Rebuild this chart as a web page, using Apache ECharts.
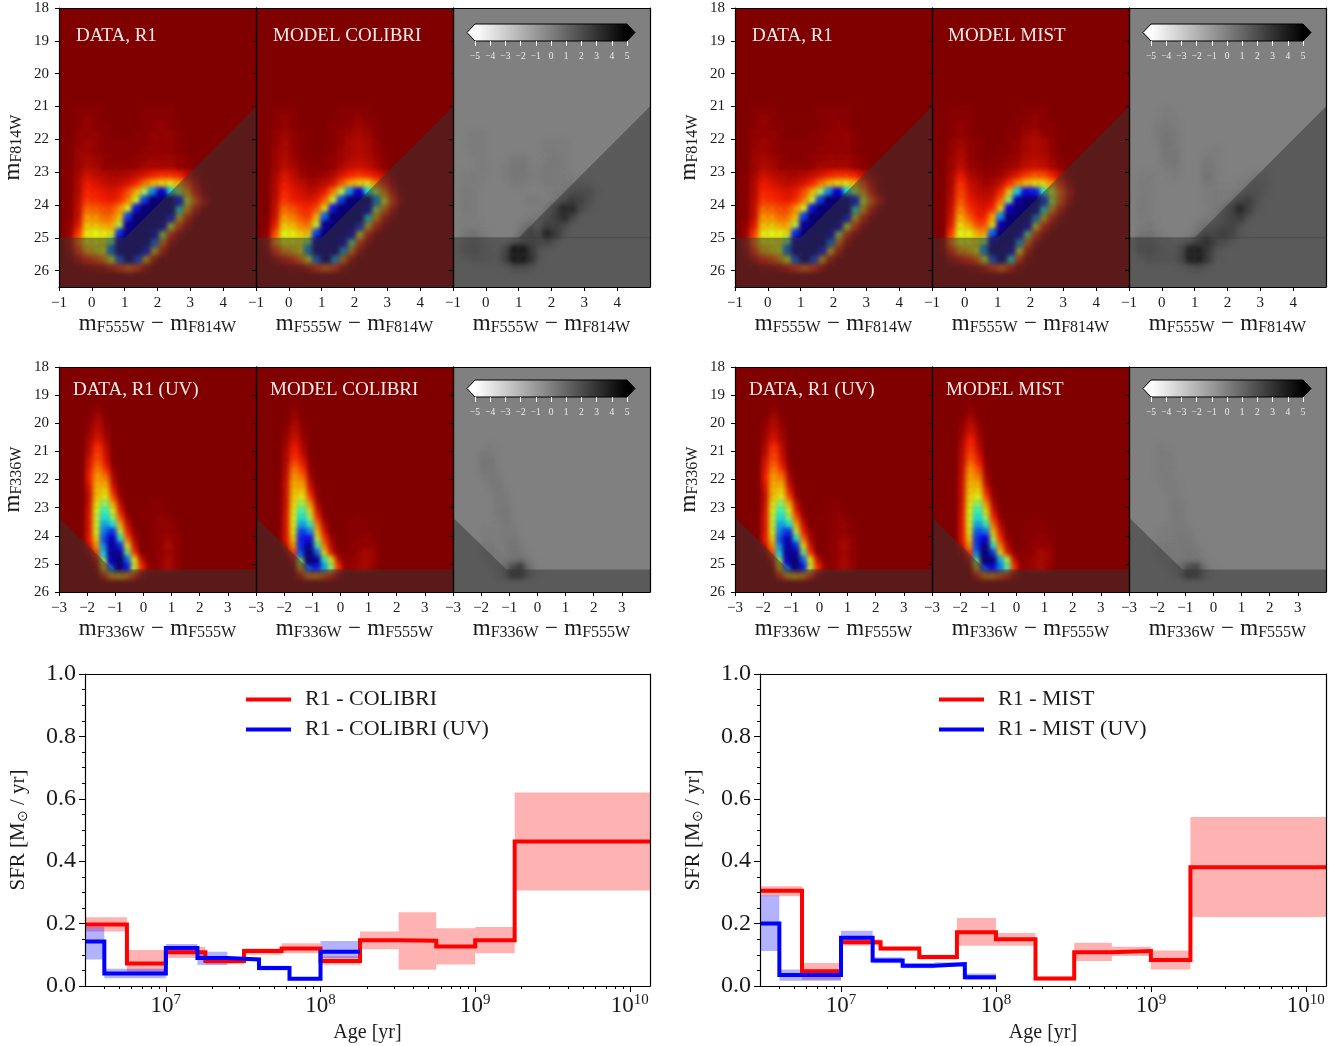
<!DOCTYPE html>
<html><head><meta charset="utf-8"><style>html,body{margin:0;padding:0;background:#fff}#c{width:1342px;height:1046px}</style>
<script src="https://cdn.jsdelivr.net/npm/echarts@6/dist/echarts.min.js"></script></head><body><div id="c"></div>
<script>
// ---- Hess diagram values, 0-100 on the reversed jet scale. Rows are magnitudes, columns colours.
const optColorStart=-0.875, optMagStart=21.125, cellStep=0.25;
const optData=[
[0,0,1,1,1,0,0,0,0,0,1,1,1,1],
[0,0,1,2,1,0,0,0,0,0,1,1,1,1],
[0,0,1,2,1,1,0,0,0,0,1,1,2,1],
[0,0,2,2,2,1,0,0,0,1,1,2,2,2,1],
[0,0,2,3,2,1,1,1,1,1,1,2,2,2,1],
[0,0,3,3,2,1,1,1,1,1,2,2,2,2,1],
[0,0,3,4,3,2,1,1,1,2,2,3,3,3,2,1],
[0,0,3,5,4,2,2,2,2,2,4,4,4,4,2,1],
[0,1,4,8,6,5,4,4,5,7,9,12,14,14,12,7,3],
[0,1,5,11,9,7,6,7,9,13,21,28,33,34,28,16,6,1],
[0,1,5,13,12,10,9,11,17,28,44,72,90,64,45,25,10,2],
[0,1,6,15,14,12,11,14,22,40,80,100,100,100,85,40,18,6],
[0,1,7,20,19,17,17,24,38,85,100,100,100,100,60,25,8,1],
[0,1,7,25,24,20,21,30,80,100,100,100,100,85,30,10,2],
[0,2,10,30,30,26,27,42,95,100,100,100,92,40,14,3],
[0,3,15,36,38,36,34,82,100,100,100,92,45,12,3],
[0,4,20,36,38,36,50,95,100,100,100,75,20,4],
[0,3,14,28,32,38,75,100,100,100,85,30,8],
[0,1,6,12,16,22,38,78,100,80,28,6],
[0,0,0,2,3,4,8,14,20,14,4]];
const optColibri=[
[0,0,1,1,1,0,0,0,0,0,1,1,1,1],
[0,0,1,2,1,0,0,0,0,0,1,1,2,1,1],
[0,0,1,2,1,0,0,0,0,1,1,2,3,2,1],
[0,0,2,3,2,1,0,0,0,1,2,3,4,3,1],
[0,0,2,4,2,1,0,0,0,1,2,4,5,4,2],
[0,0,3,4,2,1,0,0,0,1,3,4,5,4,2,1],
[0,0,3,5,3,1,1,0,1,2,3,5,6,5,3,1],
[0,0,3,6,4,2,1,1,1,2,5,7,8,7,4,1],
[0,0,4,9,6,3,2,2,3,5,9,13,15,13,10,6,2],
[0,0,5,11,8,6,4,4,6,9,18,27,32,34,22,12,4],
[0,0,5,13,10,8,6,7,11,22,42,72,90,62,42,22,8,1],
[0,0,6,15,12,10,9,11,19,40,80,100,100,100,72,36,14,3],
[0,0,7,20,17,14,13,17,34,85,100,100,100,92,44,20,6],
[0,0,8,25,22,17,15,28,76,100,100,100,100,62,24,8,2],
[0,1,11,31,28,22,21,40,95,100,100,100,82,30,10,2],
[0,2,17,38,36,30,30,80,100,100,100,90,38,10,2],
[0,3,23,38,38,36,48,95,100,100,92,52,14,3],
[0,2,13,24,28,36,72,100,100,100,70,22,5],
[0,0,4,8,12,20,36,76,100,70,22,5],
[0,0,0,1,2,3,6,14,20,14,4]];
const optMist=[
[0,0,1,1,1,0,0,0,0,0,0,1,1,1],
[0,0,1,1,1,0,0,0,0,0,1,1,2,1],
[0,0,1,2,1,0,0,0,0,0,1,2,2,1,1],
[0,0,1,2,1,0,0,0,0,1,1,3,4,2,1],
[0,0,2,3,2,1,0,0,0,1,2,4,5,4,2],
[0,0,2,4,2,1,0,0,1,1,2,4,5,4,2],
[0,0,3,5,2,1,0,1,1,2,3,5,6,5,3,1],
[0,0,3,6,3,2,1,1,2,3,4,7,8,7,4,2],
[0,0,4,10,5,3,2,2,3,6,10,15,18,17,12,6,2],
[0,0,4,14,7,5,3,4,7,14,22,30,34,33,24,13,4],
[0,0,5,16,9,6,5,6,13,30,65,86,84,58,38,20,8,1],
[0,0,6,18,11,8,7,9,20,48,92,100,100,82,44,18,5],
[0,0,7,22,14,10,9,13,32,88,100,100,96,60,24,8,1],
[0,0,8,27,18,12,12,26,72,100,100,100,72,30,10,2],
[0,0,10,33,25,17,17,34,92,100,100,90,36,12,3],
[0,0,15,38,36,26,26,76,100,100,92,50,14,3],
[0,2,21,38,38,34,46,94,100,100,70,20,4],
[0,2,12,24,28,36,72,100,100,92,36,8],
[0,0,4,8,12,18,36,78,100,60,14,2],
[0,0,0,1,2,3,6,14,20,10,2]];
// residuals, -5..5
const optResColibri=[
[],[],[],
[0,0,.1,.1],
[0,0,.1,.1,0,0,0,0,0,0,0,.1,.1,.1],
[0,0,.1,.1,0,0,0,0,0,0,0,.1,.1,.1],
[0,0,0,.1,0,0,0,.2,.2,0,0,.1,.2,.1],
[0,0,0,.1,0,0,.1,.3,.3,0,.1,.2,.2,.1],
[0,.1,.1,.1,0,0,.1,.3,.3,.1,.1,.2,.2,.1],
[0,.1,.1,0,0,0,0,.1,.1,0,0,.1,.1,.1,.2,.3,.2],
[0,.2,.1,0,0,0,0,0,0,0,0,0,.1,.2,.8,1.2,.9,.2],
[0,.2,.1,0,0,0,0,0,0,.2,.1,0,.2,1,2.2,1.8,.7],
[0,.2,.1,0,0,0,0,0,0,0,0,.3,1.6,4,3.5,1,.2],
[0,.1,.1,0,0,0,0,0,0,.1,.2,.8,2,3.4,1.2],
[0,.1,.1,0,0,0,0,0,.2,.6,.4,1.8,2,1],
[0,.2,.4,.1,0,0,0,0,.6,2,1,4,2.2,.2],
[0,.6,.9,.5,.1,0,0,.4,1.4,1.8,1.4,1.4,.3],
[0,.8,1,.6,.2,.1,1.4,5,5,2.4,.3],
[0,.2,.5,.5,.4,.3,1.8,5,5,2.8,.2],
[0,0,0,0,0,0,.2,.8,1,.4]];
const optResMist=[
[0,0,0,0,.1],
[0,0,0,0,.1,.1],
[0,0,0,.1,.2,.1],
[0,0,0,.1,.4,.2],
[0,0,0,0,.4,.2],
[0,0,0,0,.3,.3,0,0,0,0,.1],
[0,0,0,0,.2,.4,0,0,0,.2,.1],
[0,0,0,0,.1,.2,0,0,0,.3,.1],
[0,.1,.1,0,0,.1,0,0,0,.4,.1,0,0,0,0,.2,.3],
[0,.1,.1,0,0,0,0,0,0,.2,.1,0,0,.1,.3,.6,.4],
[0,.1,.1,0,0,0,0,0,0,.1,.1,.1,.1,.2,.6,.8,.2],
[0,.2,.1,0,0,0,0,0,0,.1,.2,.1,.3,1.3,2,.6],
[0,.2,.1,0,0,0,0,0,0,0,.1,.5,1.6,3.8,1.8,.2],
[0,.1,.1,0,0,0,0,0,0,.1,.3,.9,1.8,2.2,.4],
[0,.1,.2,0,0,0,0,0,.2,.5,.6,1.2,1.7,.4],
[0,.3,.4,.1,0,0,0,0,.5,1.3,1.5,2.2,1.5,.2],
[.1,.9,.9,.4,.2,0,.1,.5,2,3.2,1.5,.7,.2],
[0,1,1.1,.6,.3,.2,1.2,4.2,4.4,2.4,.4],
[0,.2,.6,.6,.5,.4,1.4,4.4,4.6,2.4,.2],
[0,0,0,0,0,0,.2,.6,.8,.3]];
const uvColorStart=-1.875, uvMagStart=19.375;
const uvData=[
[0,1],[0,2],[1,4,1],[2,5,2],[3,7,3],[4,9,4],[5,14,6],[6,16,7],[9,18,9],
[10,22,13,2],[12,26,20,4],[10,28,26,6],[8,30,32,10,1],
[7,30,36,16,2],
[8,35,48,27,6,0,0,0,0,1,1],
[9,38,58,36,10,1,0,0,0,1,1],
[10,40,64,46,18,3,0,0,1,1,2,1],
[10,40,70,62,28,7,0,0,0,1,2,2,1],
[10,38,74,82,42,12,2,0,0,1,2,2,1],
[11,32,78,92,60,20,4,0,0,1,2,3,2],
[6,24,70,96,82,35,8,0,0,1,2,4,2],
[2,14,64,96,95,52,14,1,0,1,2,3,2],
[0,5,42,90,100,76,36,7,1,1,2,4,2],
[0,1,28,74,100,85,42,14,3,1,2,4,2],
[0,0,10,26,30,26,14,3]];
const uvColibri=[
[0,1],[0,2],[0,3],[1,5,1],[2,6,2],[3,8,3],[4,11,4],[5,13,6],[5,16,10,1],
[6,21,14,2],[7,25,19,3],[8,28,25,6],[8,30,30,9,1],[8,32,36,15,2],
[8,34,46,24,4],[9,36,56,33,8],
[10,38,64,44,14,2,0,0,0,0,1],
[10,38,70,58,22,5,0,0,0,1,1,1],
[10,36,80,72,30,9,0,0,0,1,1,1,1],
[10,32,84,86,42,15,3,0,0,1,1,2,1],
[6,24,82,96,56,22,5,0,0,1,2,2,2],
[2,12,76,100,76,34,9,1,1,1,2,4,3],
[0,4,46,100,96,60,34,6,1,2,3,4,3],
[0,1,26,76,84,70,48,14,2,2,3,4,2],
[0,0,8,22,24,18,12,3]];
const uvMist=[
[0,1],[0,2],[1,4,1],[2,6,2],[3,8,3],[4,12,4],[5,14,5],[6,16,8],[6,19,11,1],
[7,24,16,2],[7,27,21,3],[8,29,27,5],[8,31,32,10,1],[8,33,38,16,2],
[8,35,48,25,4],[9,37,58,33,8],
[10,38,64,44,13,2,0,0,0,0,1],
[10,38,70,58,21,5,0,0,0,1,1,1],
[10,36,78,74,30,9,1,0,0,1,1,1,1],
[10,32,82,88,42,14,2,0,0,1,1,2,1],
[6,24,80,98,58,22,5,0,0,1,2,2,2],
[2,12,72,100,80,34,10,1,1,1,2,4,3],
[0,4,48,100,98,68,42,7,1,2,3,4,3],
[0,1,26,78,86,74,54,14,2,2,3,4,2],
[0,0,8,22,24,18,12,3]];
const uvResColibri=[
[],[],[],[],[],[],[0,.1],[.3,.1],[.4,.2],[.3,.2],[.1,.3,.1],[0,.2,.2],[0,.1,.3],
[0,0,.2,.1],[0,0,.2,.1],[0,0,.2,.3],[0,0,.1,.3],[0,0,0,.2,.1],[.1,.1,0,.2,.1],
[.1,.1,0,.1,.3],[.2,.2,0,.1,.4,.1],[.2,.3,.1,.1,.4,.2],[0,.3,.3,.2,.4,.6,.2],
[0,0,.4,.7,1.8,2.6,.8,.1],[0,0,.2,.8,2.8,2.8,1,.2]];
const uvResMist=[
[],[],[],[],[],[],[.1],[.1,.1],[.1,.1],[.1,.1],[.1,.1],[0,.1,.1],[0,.1,.1],
[0,0,.1],[0,0,.2,.1],[0,0,.2,.1],[0,0,.2,.1],[0,0,.1,.2],[.1,.1,.1,.2,.1],
[.1,.1,.1,.3,.2],[.2,.2,.2,.2,.3,.1],[.2,.3,.2,.1,.4,.2],[0,.3,.3,.1,.3,.3,.1],
[0,0,.4,.8,1.8,2.2,.6,.1],[0,0,.2,.8,2.5,2.2,.8,.1]];
// masked regions, [colour, magnitude]
const optMask=[[1,25],[5,21],[5,26.5],[-1,26.5],[-1,25]];
const uvMask=[[-3,23.35],[-1.1,25.2],[4,25.2],[4,26],[-3,26]];
const optSeam=[[-1,25],[5,25]];
const optXTicks=[-1,0,1,2,3,4], optYTicks=[18,19,20,21,22,23,24,25,26];
const uvXTicks=[-3,-2,-1,0,1,2,3], uvYTicks=[18,19,20,21,22,23,24,25,26];
const colorbarTicks=[-5,-4,-3,-2,-1,0,1,2,3,4,5];
// ---- SFR histories: age bin edges, values and lower/upper bands
const edgesOpt=[3e6,5.6e6,1e7,1.8e7,3.2e7,5.6e7,1e8,1.8e8,3.2e8,5.6e8,1e9,1.8e9,1.35e10];
const edgesUV=[3e6,4e6,1e7,1.6e7,2.5e7,4e7,6.3e7,1e8,1.8e8];
const colibriSfr=[.197,.072,.108,.08,.112,.12,.08,.147,.145,.127,.147,.463];
const colibriLo=[.175,.035,.09,.07,.1,.105,.068,.118,.052,.069,.105,.306];
const colibriHi=[.22,.115,.125,.09,.12,.137,.095,.175,.236,.185,.189,.62];
const colibriUvSfr=[.143,.04,.122,.09,.085,.058,.023,.11];
const colibriUvLo=[.085,.025,.11,.067,.08,.05,.018,.09];
const colibriUvHi=[.19,.055,.135,.11,.09,.065,.028,.144];
const mistSfr=[.305,.047,.14,.12,.093,.172,.15,.024,.108,.112,.083,.381];
const mistLo=[.288,.02,.13,.113,.085,.129,.129,.018,.08,.096,.053,.221];
const mistHi=[.32,.074,.15,.125,.1,.218,.17,.03,.139,.126,.114,.542];
const mistUvSfr=[.2,.035,.155,.082,.065,.07,.028];
const mistUvLo=[.112,.017,.142,.073,.057,.064,.02];
const mistUvHi=[.29,.053,.177,.092,.073,.076,.04];
const edgesMistUV=[3e6,4e6,1e7,1.6e7,2.5e7,4e7,6.3e7,1e8];
const ageTicks=[1e7,1e8,1e9,1e10];
const ageMinor=[4e6,5e6,6e6,7e6,8e6,9e6,2e7,3e7,4e7,5e7,6e7,7e7,8e7,9e7,2e8,3e8,4e8,5e8,6e8,7e8,8e8,9e8,2e9,3e9,4e9,5e9,6e9,7e9,8e9,9e9];

const FONT='"Liberation Serif"', INK='#1a1a1a';
const jetStops=['#800000','#ff2100','#ff9700','#eaff14','#7cff7a','#14ffe6','#0080ff','#0000ff','#000080'];
const minus=v=>String(v).replace('-','\u2212');
const grid=[],xAxis=[],yAxis=[],series=[],jetIdx=[],grayIdx=[],graphic=[];
const nameRich={m:{fontFamily:FONT,fontSize:23,color:INK,lineHeight:24},
  g:{fontFamily:FONT,fontSize:23,color:INK,lineHeight:24,padding:[0,3,0,3]},
  s:{fontFamily:FONT,fontSize:16,color:INK,lineHeight:24,verticalAlign:'bottom'}};
const sfrRich={m:{fontFamily:FONT,fontSize:21,color:INK,lineHeight:24},
  s:{fontFamily:FONT,fontSize:14,color:INK,lineHeight:24,verticalAlign:'bottom'}};
const spine={show:true,onZero:false,lineStyle:{color:'#000',width:1.2}};
const CELL_BLUR=5, OFF=4000;

function addAxes(g,o){
  const gi=grid.length; grid.push({left:g[0],top:g[1],width:g[2],height:g[3],show:true,backgroundColor:o.bg,borderWidth:0,z:0});
  const lbl={fontFamily:FONT,fontSize:15,color:INK,formatter:minus};
  const xi=xAxis.length, yi=yAxis.length;
  xAxis.push({gridIndex:gi,type:'value',min:o.x[0],max:o.x[1],position:'bottom',z:10,axisLine:spine,splitLine:{show:false},
    axisTick:{length:4,customValues:o.xt,lineStyle:{color:'#000'}},axisLabel:{...lbl,margin:9,customValues:o.xt},
    name:o.xName,nameLocation:'middle',nameGap:25,nameTextStyle:{rich:nameRich}});
  xAxis.push({gridIndex:gi,type:'value',min:o.x[0],max:o.x[1],position:'top',z:10,axisLine:spine,axisTick:{show:false},axisLabel:{show:false},splitLine:{show:false}});
  yAxis.push({gridIndex:gi,type:'value',min:o.y[0],max:o.y[1],inverse:true,position:'left',z:10,axisLine:spine,splitLine:{show:false},
    axisTick:{length:4,customValues:o.yt,lineStyle:{color:'#000'}},axisLabel:{...lbl,margin:10,padding:[3,0,0,0],show:!!o.yName,customValues:o.yt},
    name:o.yName||'',nameLocation:'middle',nameGap:34,nameRotate:90,nameTextStyle:{rich:nameRich}});
  yAxis.push({gridIndex:gi,type:'value',min:o.y[0],max:o.y[1],inverse:true,position:'right',z:10,axisLine:spine,axisTick:{show:false},axisLabel:{show:false},splitLine:{show:false}});
  return [xi,yi];
}
function cellsOf(rows,c0,m0){
  const out=[];
  rows.forEach((r,j)=>r.forEach((v,i)=>{ if(v) out.push([c0+cellStep*i,m0+cellStep*j,v]); }));
  return out.sort((a,b)=>Math.abs(a[2])-Math.abs(b[2]));
}
function renderCell(p,api){
  const c=api.value(0),m=api.value(1),h=cellStep/2,col=api.visual('color');
  const a=api.coord([c-h,m-h]),b=api.coord([c+h,m+h]);
  // only the soft shadow of the cell lands in the panel, so neighbouring cells melt into each other
  return {type:'rect',shape:{x:a[0]-OFF-1,y:a[1]-1,width:b[0]-a[0]+2,height:b[1]-a[1]+2},
    style:{fill:col,shadowBlur:CELL_BLUR,shadowColor:col,shadowOffsetX:OFF}};
}
function addPanel(g,o,rows,c0,m0,mask,gray,text,tx,ty,seam){
  const [xi,yi]=addAxes(g,{...o,bg:gray?'#808080':'#800000'});
  (gray?grayIdx:jetIdx).push(series.length);
  series.push({type:'custom',xAxisIndex:xi,yAxisIndex:yi,coordinateSystem:'cartesian2d',clip:true,silent:true,z:1,animation:false,
    dimensions:['c','m','v'],encode:{x:0,y:1},renderItem:renderCell,data:cellsOf(rows,c0,m0)});
  series.push({type:'custom',xAxisIndex:xi,yAxisIndex:yi,coordinateSystem:'cartesian2d',clip:true,silent:true,z:3,animation:false,data:[[0,0]],
    renderItem:(p,api)=>{
      const kids=[{type:'polygon',shape:{points:mask.map(q=>api.coord(q))},style:{fill:'rgba(52,52,52,0.5)'}}];
      if(seam){const s=seam.map(q=>api.coord(q));kids.push({type:'line',shape:{x1:s[0][0],y1:s[0][1],x2:s[1][0],y2:s[1][1]},style:{stroke:'rgba(52,52,52,0.35)',lineWidth:1}});}
      return {type:'group',children:kids};}});
  if(text) graphic.push({type:'text',left:tx,top:ty,z:20,style:{text,font:'19px '+FONT,fill:'#f4ecec'}});
}
function addColorbar(left,top){
  const gi=grid.length; grid.push({left,top,width:152,height:17,show:false});
  const xi=xAxis.length,yi=yAxis.length;
  xAxis.push({gridIndex:gi,type:'value',min:-5,max:5,position:'bottom',z:12,axisLine:{show:false},splitLine:{show:false},
    axisTick:{length:5,customValues:colorbarTicks,lineStyle:{color:'#fff'}},
    axisLabel:{customValues:colorbarTicks,fontFamily:FONT,fontSize:9.5,color:'#ececec',margin:10,formatter:minus}});
  yAxis.push({gridIndex:gi,type:'value',min:0,max:1,show:false});
  series.push({type:'custom',xAxisIndex:xi,yAxisIndex:yi,coordinateSystem:'cartesian2d',silent:true,z:5,animation:false,data:[[0,0]],
    renderItem:(p,api)=>{
      const P=q=>api.coord(q),a=P([-5,1]),b=P([5,0]);
      const out=[[-5.53,.5],[-5,1],[5,1],[5.53,.5],[5,0],[-5,0]].map(P);
      return {type:'group',children:[
        {type:'polygon',shape:{points:[[-5.53,.5],[-5,1],[-5,0]].map(P)},style:{fill:'#fff'}},
        {type:'polygon',shape:{points:[[5.53,.5],[5,1],[5,0]].map(P)},style:{fill:'#000'}},
        {type:'rect',shape:{x:a[0],y:a[1],width:b[0]-a[0],height:b[1]-a[1]},
          style:{fill:new echarts.graphic.LinearGradient(0,0,1,0,[{offset:0,color:'#fff'},{offset:1,color:'#000'}])}},
        {type:'polygon',shape:{points:out},style:{fill:'none',stroke:'#000',lineWidth:1}}]};
    }});
}
const OPTN='{m|m}{s|F555W} {g|\u2212} {m|m}{s|F814W}', UVN='{m|m}{s|F336W} {g|\u2212} {m|m}{s|F555W}';
const optO={x:[-1,5],y:[18,26.5],xt:optXTicks,yt:optYTicks,xName:OPTN};
const uvO={x:[-3,4],y:[18,26],xt:uvXTicks,yt:uvYTicks,xName:UVN};
[[59,'COLIBRI',optColibri,optResColibri,uvColibri,uvResColibri,76,273,73,270],
 [735,'MIST',optMist,optResMist,uvMist,uvResMist,752,948,749,946]].forEach(d=>{
  const x0=d[0],W=197,x1=x0+W,x2=x1+W;
  addPanel([x0,8,W,279],{...optO,yName:'{m|m}{s|F814W}'},optData,optColorStart,optMagStart,optMask,false,'DATA, R1',d[6],27);
  addPanel([x1,8,W,279],optO,d[2],optColorStart,optMagStart,optMask,false,'MODEL '+d[1],d[7],27);
  addPanel([x2,8,W,279],optO,d[3],optColorStart,optMagStart,optMask,true,null,0,0,optSeam);
  addColorbar(x2+22,24);
  addPanel([x0,367,W,225],{...uvO,yName:'{m|m}{s|F336W}'},uvData,uvColorStart,uvMagStart,uvMask,false,'DATA, R1 (UV)',d[8],381);
  addPanel([x1,367,W,225],uvO,d[4],uvColorStart,uvMagStart,uvMask,false,'MODEL '+d[1],d[9],381);
  addPanel([x2,367,W,225],uvO,d[5],uvColorStart,uvMagStart,uvMask,true);
  addColorbar(x2+22,380);
});
const legends=[];
function bands(xi,yi,edges,lo,hi,fill){
  series.push({type:'custom',xAxisIndex:xi,yAxisIndex:yi,coordinateSystem:'cartesian2d',silent:true,z:1,animation:false,
    dimensions:['x0','x1','lo','hi'],encode:{x:[0,1],y:[2,3]},
    data:lo.map((v,i)=>[edges[i],edges[i+1],v,hi[i]]),
    renderItem:(p,api)=>{const a=api.coord([api.value(0),api.value(3)]),b=api.coord([api.value(1),api.value(2)]);
      return {type:'rect',shape:{x:a[0],y:a[1],width:b[0]-a[0],height:b[1]-a[1]},style:{fill:fill}};}});
}
function steps(xi,yi,name,edges,vals,color,z){
  const data=vals.map((v,i)=>[edges[i],v]); data.push([edges[vals.length],vals[vals.length-1]]);
  series.push({type:'line',name,xAxisIndex:xi,yAxisIndex:yi,step:'end',symbol:'none',z,animation:false,silent:true,
    lineStyle:{color,width:4,join:'miter'},itemStyle:{color},data});
}
function addSfr(g,n1,n2,leg,e1,e2,s1,l1,h1,s2,l2,h2){
  const gi=grid.length; grid.push({left:g[0],top:g[1],width:g[2],height:g[3],show:false});
  const xi=xAxis.length,yi=yAxis.length;
  const X={gridIndex:gi,type:'log',logBase:10,min:3e6,max:1.35e10,splitLine:{show:false}};
  xAxis.push({...X,position:'bottom',z:10,axisLine:spine,axisTick:{length:6,customValues:ageTicks,lineStyle:{color:'#000'}},
    axisLabel:{customValues:ageTicks,margin:7,formatter:v=>'{b|10}{e|'+Math.round(Math.log10(v))+'}',
      rich:{b:{fontFamily:FONT,fontSize:23,color:INK,lineHeight:26},e:{fontFamily:FONT,fontSize:15,color:INK,lineHeight:26,verticalAlign:'top'}}},
    name:'Age [yr]',nameLocation:'middle',nameGap:47,nameTextStyle:{fontFamily:FONT,fontSize:20,color:INK,verticalAlign:'middle'}});
  xAxis.push({...X,position:'top',z:10,axisLine:spine,axisTick:{show:false},axisLabel:{show:false}});
  xAxis.push({...X,position:'bottom',z:10,axisLine:{show:false},axisTick:{length:3,customValues:ageMinor,lineStyle:{color:'#000'}},axisLabel:{show:false}});
  const Y={gridIndex:gi,type:'value',min:0,max:1,interval:.2,splitLine:{show:false}};
  yAxis.push({...Y,position:'left',z:10,axisLine:spine,axisTick:{length:6,lineStyle:{color:'#000'}},
    minorTick:{show:true,splitNumber:4,length:3,lineStyle:{color:'#000'}},
    axisLabel:{fontFamily:FONT,fontSize:24,color:INK,margin:9,padding:[6,0,0,0],formatter:v=>v.toFixed(1)},
    name:'{m|SFR [M}{s|\u2299}{m| / yr]}',nameLocation:'middle',nameGap:55,nameRotate:90,nameTextStyle:{rich:sfrRich}});
  yAxis.push({...Y,position:'right',z:10,axisLine:spine,axisTick:{show:false},axisLabel:{show:false}});
  bands(xi,yi,e1,l1,h1,'rgba(255,0,0,0.3)');
  bands(xi,yi,e2,l2,h2,'rgba(0,0,255,0.3)');
  steps(xi,yi,n1,e1,s1,'#ff0000',3);
  steps(xi,yi,n2,e2,s2,'#0000ff',4);
  legends.push({show:true,orient:'vertical',left:leg,top:687,padding:0,data:[{name:n1,icon:'rect'},{name:n2,icon:'rect'}],itemWidth:45,itemHeight:4,itemGap:5,selectedMode:false,
    textStyle:{fontFamily:FONT,fontSize:22,color:INK,padding:[0,0,0,9],lineHeight:25}});
}
addSfr([85,674,565,312],'R1 - COLIBRI','R1 - COLIBRI (UV)',246,edgesOpt,edgesUV,colibriSfr,colibriLo,colibriHi,colibriUvSfr,colibriUvLo,colibriUvHi);
addSfr([760,674,566,312],'R1 - MIST','R1 - MIST (UV)',939,edgesOpt,edgesMistUV,mistSfr,mistLo,mistHi,mistUvSfr,mistUvLo,mistUvHi);

const chart=echarts.init(document.getElementById('c'),null,{renderer:'canvas'});
chart.setOption({animation:false,backgroundColor:'#fff',grid,xAxis,yAxis,series,legend:legends,graphic,tooltip:{show:false},
  visualMap:[
   {type:'continuous',show:false,seriesIndex:jetIdx,dimension:2,min:0,max:100,inRange:{color:jetStops}},
   {type:'continuous',show:false,seriesIndex:grayIdx,dimension:2,min:-5,max:5,inRange:{color:['#ffffff','#000000']}}]});
</script></body></html>
